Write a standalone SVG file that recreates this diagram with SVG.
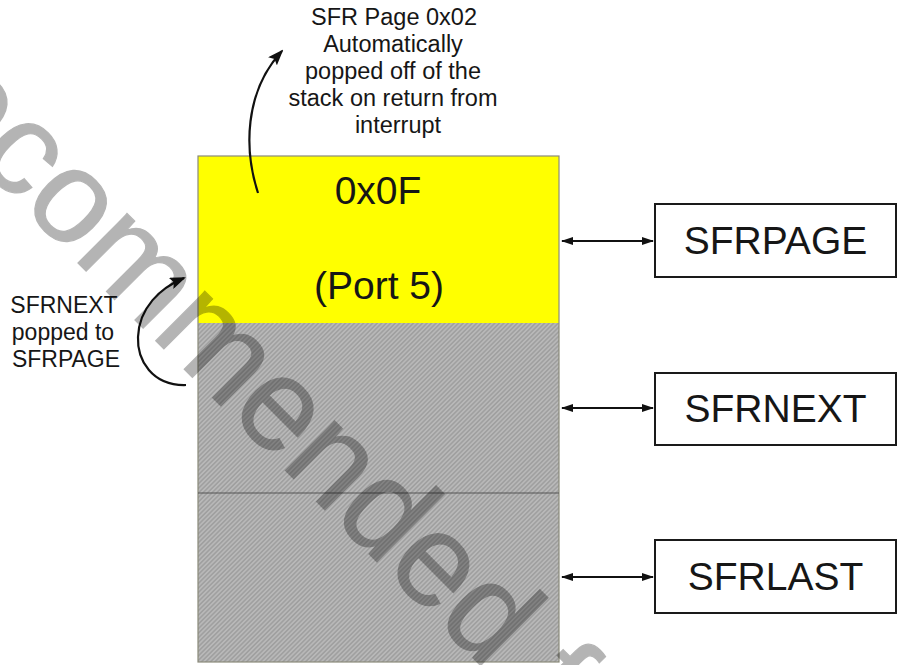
<svg xmlns="http://www.w3.org/2000/svg" width="900" height="665" viewBox="0 0 900 665">
<defs>
<style>
.t{font-family:"Liberation Sans",Arial,sans-serif;fill:#161616}
.big{font-size:39px;text-anchor:middle}
.sm{font-size:23.5px;text-anchor:middle}
.box{fill:#fff;stroke:#1a1a1a;stroke-width:2}
.link{stroke:#111;stroke-width:2;fill:none;marker-start:url(#ah);marker-end:url(#ah)}
.curve{stroke:#111;stroke-width:2.2;fill:none;marker-end:url(#ch)}
.wm{font-family:"Liberation Sans",Arial,sans-serif;font-size:132px;fill:#000;stroke:#000;stroke-width:1.2}
</style>
<pattern id="hatch" patternUnits="userSpaceOnUse" width="3.2" height="3.2" patternTransform="rotate(45)">
<rect width="3.2" height="3.2" fill="#a0a0a0"/>
<line x1="0.8" y1="0" x2="0.8" y2="3.2" stroke="#c4c4c4" stroke-width="1.1"/>
</pattern>
<marker id="ah" viewBox="0 0 12 8" refX="11" refY="4" markerWidth="12" markerHeight="8" markerUnits="userSpaceOnUse" orient="auto-start-reverse">
<path d="M0,0 L12,4 L0,8 z" fill="#111"/>
</marker>
<marker id="ch" viewBox="0 0 16 12" refX="14" refY="6" markerWidth="16" markerHeight="12" markerUnits="userSpaceOnUse" orient="auto">
<path d="M0,0 L16,6 L0,12 L3,6 z" fill="#111"/>
</marker>
</defs>
<rect width="900" height="665" fill="#fff"/>

<g id="stack">
<rect x="198" y="323" width="361" height="339" fill="url(#hatch)"/>
<rect x="198" y="156" width="361" height="167" fill="#ffff00"/>
<rect x="198" y="156" width="361" height="506" fill="none" stroke="#8a8a7a" stroke-width="1.2"/>
<line x1="198" y1="493" x2="559" y2="493" stroke="#555" stroke-width="1.2"/>
<text class="t big" x="378" y="204">0x0F</text>
<text class="t big" x="379" y="299">(Port 5)</text>
</g>

<g id="sfrpage">
<rect class="box" x="655" y="204" width="241" height="73"/>
<text class="t big" x="775.5" y="254">SFRPAGE</text>
</g>
<g id="sfrnext">
<rect class="box" x="655" y="373" width="241" height="72"/>
<text class="t big" x="775.5" y="422">SFRNEXT</text>
</g>
<g id="sfrlast">
<rect class="box" x="655" y="540" width="241" height="73"/>
<text class="t big" x="775.5" y="590">SFRLAST</text>
</g>

<g id="note-top">
<text class="t sm" x="394" y="25">SFR Page 0x02</text>
<text class="t sm" x="393" y="52">Automatically</text>
<text class="t sm" x="393" y="79">popped off of the</text>
<text class="t sm" x="393" y="106">stack on return from</text>
<text class="t sm" x="398" y="133">interrupt</text>
</g>
<g id="note-left">
<text class="t sm" x="64" y="313" style="font-size:23px">SFRNEXT</text>
<text class="t sm" x="63" y="340" style="font-size:23px">popped to</text>
<text class="t sm" x="66" y="367" style="font-size:23px">SFRPAGE</text>
</g>

<g id="connectors">
<line class="link" x1="562" y1="241" x2="653" y2="241"/>
<line class="link" x1="562" y1="408" x2="653" y2="408"/>
<line class="link" x1="562" y1="577" x2="653" y2="577"/>
<path class="curve" d="M258,193 C244,150 244,92 282,51"/>
<path class="curve" d="M186,385 C152,386 137,360 138,337 C139,308 160,288 184,278"/>
</g>

<g id="watermark" opacity="0.29">
<text class="wm" transform="translate(-110,75) rotate(45)">recommended f</text>
</g>
</svg>
